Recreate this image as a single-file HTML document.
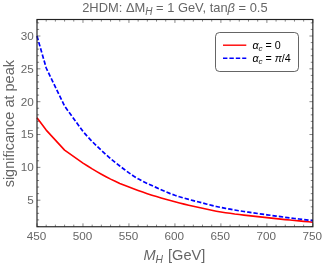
<!DOCTYPE html><html><head><meta charset="utf-8"><style>html,body{margin:0;padding:0;background:#fff;overflow:hidden}body{width:332px;height:265px;position:relative;font-family:"Liberation Sans",sans-serif}</style></head><body><svg width="332" height="265" viewBox="0 0 332 265" style="position:absolute;left:0;top:0;will-change:transform">
<path d="M37.00 226.75v-3.40M37.00 19.50v3.40M46.20 226.75v-2.10M46.20 19.50v2.10M55.39 226.75v-2.10M55.39 19.50v2.10M64.59 226.75v-2.10M64.59 19.50v2.10M73.78 226.75v-2.10M73.78 19.50v2.10M82.98 226.75v-3.40M82.98 19.50v3.40M92.17 226.75v-2.10M92.17 19.50v2.10M101.36 226.75v-2.10M101.36 19.50v2.10M110.56 226.75v-2.10M110.56 19.50v2.10M119.76 226.75v-2.10M119.76 19.50v2.10M128.95 226.75v-3.40M128.95 19.50v3.40M138.15 226.75v-2.10M138.15 19.50v2.10M147.34 226.75v-2.10M147.34 19.50v2.10M156.53 226.75v-2.10M156.53 19.50v2.10M165.73 226.75v-2.10M165.73 19.50v2.10M174.93 226.75v-3.40M174.93 19.50v3.40M184.12 226.75v-2.10M184.12 19.50v2.10M193.32 226.75v-2.10M193.32 19.50v2.10M202.51 226.75v-2.10M202.51 19.50v2.10M211.71 226.75v-2.10M211.71 19.50v2.10M220.90 226.75v-3.40M220.90 19.50v3.40M230.10 226.75v-2.10M230.10 19.50v2.10M239.29 226.75v-2.10M239.29 19.50v2.10M248.49 226.75v-2.10M248.49 19.50v2.10M257.68 226.75v-2.10M257.68 19.50v2.10M266.88 226.75v-3.40M266.88 19.50v3.40M276.07 226.75v-2.10M276.07 19.50v2.10M285.26 226.75v-2.10M285.26 19.50v2.10M294.46 226.75v-2.10M294.46 19.50v2.10M303.65 226.75v-2.10M303.65 19.50v2.10M312.85 226.75v-3.40M312.85 19.50v3.40M37.00 226.47h2.10M312.85 226.47h-2.10M37.00 219.90h2.10M312.85 219.90h-2.10M37.00 213.34h2.10M312.85 213.34h-2.10M37.00 206.77h2.10M312.85 206.77h-2.10M37.00 200.20h3.40M312.85 200.20h-3.40M37.00 193.63h2.10M312.85 193.63h-2.10M37.00 187.06h2.10M312.85 187.06h-2.10M37.00 180.50h2.10M312.85 180.50h-2.10M37.00 173.93h2.10M312.85 173.93h-2.10M37.00 167.36h3.40M312.85 167.36h-3.40M37.00 160.79h2.10M312.85 160.79h-2.10M37.00 154.22h2.10M312.85 154.22h-2.10M37.00 147.66h2.10M312.85 147.66h-2.10M37.00 141.09h2.10M312.85 141.09h-2.10M37.00 134.52h3.40M312.85 134.52h-3.40M37.00 127.95h2.10M312.85 127.95h-2.10M37.00 121.38h2.10M312.85 121.38h-2.10M37.00 114.82h2.10M312.85 114.82h-2.10M37.00 108.25h2.10M312.85 108.25h-2.10M37.00 101.68h3.40M312.85 101.68h-3.40M37.00 95.11h2.10M312.85 95.11h-2.10M37.00 88.54h2.10M312.85 88.54h-2.10M37.00 81.98h2.10M312.85 81.98h-2.10M37.00 75.41h2.10M312.85 75.41h-2.10M37.00 68.84h3.40M312.85 68.84h-3.40M37.00 62.27h2.10M312.85 62.27h-2.10M37.00 55.70h2.10M312.85 55.70h-2.10M37.00 49.14h2.10M312.85 49.14h-2.10M37.00 42.57h2.10M312.85 42.57h-2.10M37.00 36.00h3.40M312.85 36.00h-3.40M37.00 29.43h2.10M312.85 29.43h-2.10M37.00 22.86h2.10M312.85 22.86h-2.10" stroke="#444" stroke-width="0.65" fill="none"/>
<polyline points="37.0,117.8 46.2,130.1 64.6,150.1 83.0,163.1 87.6,166.0 92.2,168.9 96.8,171.6 101.4,174.2 106.0,176.7 110.6,179.1 115.2,181.3 119.8,183.4 124.4,185.3 129.0,187.1 133.5,188.8 138.1,190.5 142.7,192.1 147.3,193.7 151.9,195.2 156.5,196.6 161.1,198.0 165.7,199.3 170.3,200.6 174.9,201.8 179.5,203.0 184.1,204.1 188.7,205.2 193.3,206.3 197.9,207.3 202.5,208.3 207.1,209.3 211.7,210.3 216.3,211.2 220.9,212.0 225.5,212.7 230.1,213.3 234.7,214.0 239.3,214.5 243.9,215.1 248.5,215.6 253.1,216.1 257.7,216.6 262.3,217.1 266.9,217.6 271.5,218.1 276.1,218.6 280.7,219.1 285.3,219.6 289.9,220.0 294.5,220.5 299.1,220.9 303.7,221.4 308.3,221.8 312.9,222.2" fill="none" stroke="#ff0000" stroke-width="1.6" stroke-linejoin="round"/>
<polyline points="37.0,36.0 46.2,68.0 64.6,106.1 83.0,131.5 87.6,136.7 92.2,141.5 96.8,146.1 101.4,150.4 106.0,154.6 110.6,158.6 115.2,162.4 119.8,166.0 124.4,169.5 129.0,172.9 133.5,176.0 138.1,178.8 142.7,181.3 147.3,183.5 151.9,185.6 156.5,187.6 161.1,189.7 165.7,191.7 170.3,193.6 174.9,195.3 179.5,196.8 184.1,198.1 188.7,199.4 193.3,200.6 197.9,201.8 202.5,203.0 207.1,204.2 211.7,205.4 216.3,206.5 220.9,207.5 225.5,208.4 230.1,209.2 234.7,210.0 239.3,210.8 243.9,211.5 248.5,212.2 253.1,212.8 257.7,213.5 262.3,214.2 266.9,214.8 271.5,215.4 276.1,216.1 280.7,216.7 285.3,217.3 289.9,217.9 294.5,218.5 299.1,219.0 303.7,219.6 308.3,220.1 312.9,220.6" fill="none" stroke="#0000ff" stroke-width="1.7" stroke-dasharray="4.4 2.0" stroke-linejoin="round"/>
<rect x="37.00" y="19.50" width="275.85" height="207.25" fill="none" stroke="#222" stroke-width="1.15"/>
<rect x="215.5" y="32.5" width="83" height="39" rx="4" ry="4" fill="#fff" stroke="#222" stroke-width="0.7"/>
<path d="M223 45.2H246.3" stroke="#ff0000" stroke-width="1.4"/>
<path d="M223 58.2H246.3" stroke="#0000ff" stroke-width="1.5" stroke-dasharray="4.4 2.0"/>
<g font-family="Liberation Sans, sans-serif" font-size="11.7" fill="#666">
<text x="36.4" y="240.2" text-anchor="middle">450</text>
<text x="82.4" y="240.2" text-anchor="middle">500</text>
<text x="128.4" y="240.2" text-anchor="middle">550</text>
<text x="174.3" y="240.2" text-anchor="middle">600</text>
<text x="220.3" y="240.2" text-anchor="middle">650</text>
<text x="266.3" y="240.2" text-anchor="middle">700</text>
<text x="312.2" y="240.2" text-anchor="middle">750</text>
<text x="33.7" y="204.1" text-anchor="end">5</text>
<text x="33.7" y="171.3" text-anchor="end">10</text>
<text x="33.7" y="138.4" text-anchor="end">15</text>
<text x="33.7" y="105.6" text-anchor="end">20</text>
<text x="33.7" y="72.7" text-anchor="end">25</text>
<text x="33.7" y="39.9" text-anchor="end">30</text>
</g>
<text x="174.9" y="11.6" text-anchor="middle" font-family="Liberation Sans, sans-serif" font-size="12.9" fill="#666">2HDM: ΔM<tspan font-size="10" dy="3" font-style="italic">H</tspan><tspan dy="-3"> = 1 GeV, tan</tspan><tspan font-style="italic">β</tspan> = 0.5</text>
<text x="174.4" y="260.4" text-anchor="middle" font-family="Liberation Sans, sans-serif" font-size="14.6" fill="#666"><tspan font-style="italic">M</tspan><tspan font-size="10.3" dy="2.6" font-style="italic">H</tspan><tspan dy="-2.6" dx="1"> [GeV]</tspan></text>
<text transform="translate(14.0,123.7) rotate(-90)" text-anchor="middle" font-family="Liberation Sans, sans-serif" font-size="14.5" fill="#666">significance at peak</text>
<text x="252.4" y="48.6" font-family="Liberation Sans, sans-serif" font-size="10.7" fill="#000"><tspan font-style="italic">α</tspan><tspan font-size="8" dy="2" font-style="italic">c</tspan><tspan dy="-2"> = 0</tspan></text>
<text x="252.4" y="62.1" font-family="Liberation Sans, sans-serif" font-size="10.7" fill="#000"><tspan font-style="italic">α</tspan><tspan font-size="8" dy="2" font-style="italic">c</tspan><tspan dy="-2"> = </tspan><tspan font-style="italic">π</tspan>/4</text>
</svg></body></html>
